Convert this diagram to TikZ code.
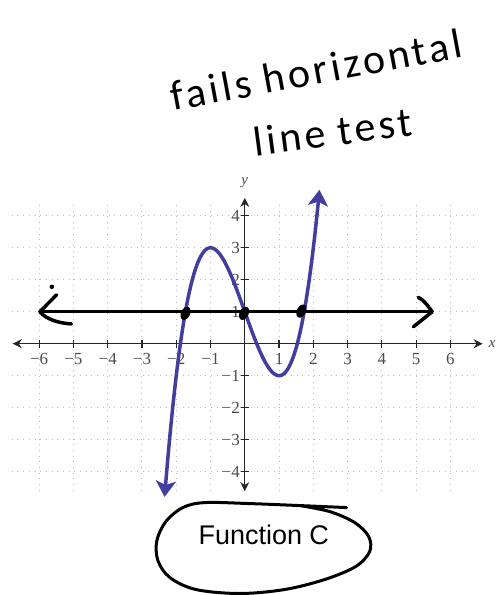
\documentclass[tikz,border=0pt]{standalone}
\usepackage{fontspec}
\setmainfont{Liberation Serif}
\newfontfamily\labelfont{Liberation Sans}
\newfontfamily\handfont{Carlito}[LetterSpace=8]
\usetikzlibrary{arrows.meta, shapes.geometric}
\definecolor{curveBlue}{RGB}{66,62,158}
\definecolor{gridGray}{RGB}{185,185,185}
\tikzset{
    >=Stealth,
    % Grid & axes
    gridline/.style={gridGray, line width=1pt, dash pattern=on 1pt off 4.7pt},
    axis/.style={{Stealth[length=9pt,width=9pt]}-{Stealth[length=9pt,width=9pt]}, line width=1.2pt, black!85},
    tickmark/.style={line width=1.2pt, black!85},
    ticklbl/.style={font=\fontsize{17}{19}\selectfont, text=black!70, inner sep=0pt},
    axislbl/.style={font=\itshape\fontsize{15}{17}\selectfont, text=black!70, inner sep=0pt},
    % Curve & pen marks
    curve/.style={curveBlue, line width=3.5pt,
                  {Stealth[length=16pt,width=20pt,inset=4pt]}-{Stealth[length=16pt,width=20pt,inset=4pt]}},
    pen/.style={black, line width=3.5pt, line cap=round, line join=round},
    handdot/.style={ellipse, fill=black, minimum width=9pt, minimum height=14pt, inner sep=0pt},
    hand/.style={font=\handfont\fontsize{42}{48}\selectfont, inner sep=0pt},
    px/.style={x=1pt, y=-1pt, shift={(-245pt,344pt)}}
}
\begin{document}
\begin{tikzpicture}[x=34.3pt, y=32pt]

\begin{scope}[px]
\useasboundingbox (0,0) rectangle (494,595);
\end{scope}

% grid
\foreach \i in {-6,...,6}
    \draw[gridline] (\i,-4.6) -- (\i,4.4);
\foreach \j in {-4,...,4}
    \draw[gridline] (-6.8,\j) -- (6.75,\j);

% axes
\coordinate (xL) at (-6.77,0);
\coordinate (xR) at (6.94,0);
\coordinate (yB) at (0,-4.61);
\coordinate (yT) at (0,4.56);
\draw[axis] (xL) -- (xR);
\draw[axis] (yB) -- (yT);
\node[axislbl] (xLbl) at (7.22,0) {x};
\node[axislbl] (yLbl) at (0,5.03) {y};

\foreach \i/\lbl in {-6/−6,-5/−5,-4/−4,-3/−3,-2/−2,-1/−1,1/1,2/2,3/3,4/4,5/5,6/6} {
    \draw[tickmark] (\i,-0.12) -- (\i,0.12);
    \node[ticklbl] (xl\i) at (\i,-0.48) {\lbl};
}
\foreach \j/\lbl in {-4/−4,-3/−3,-2/−2,-1/−1,1/1,2/2,3/3,4/4} {
    \draw[tickmark] (-0.12,\j) -- (0.12,\j);
    \node[ticklbl, anchor=east] (yl\j) at (-0.14,\j) {\lbl};
}

% function C
\draw[curve, domain=-2.34:2.18, samples=120, smooth]
    plot (\x, {\x*\x*\x - 3*\x + 1});

% horizontal line test
\coordinate (lineL) at (-5.98,1);
\coordinate (lineR) at (5.47,1);
\draw[pen] (lineL) -- (lineR);
\draw[pen] (lineL) ++(0.49,0.53) -- (lineL)
    .. controls +(0.2,-0.25) and +(-0.35,0.02) .. ++(0.92,-0.38);
\draw[pen] (lineR) ++(-0.41,0.45) .. controls +(0.2,-0.1) and +(-0.08,0.1) .. (lineR)
    -- ++(-0.55,-0.47);
\node[circle, fill=black, minimum size=4.5pt, inner sep=0pt] (iDot) at (-5.63,1.78) {};

\node[handdot, rotate=-25] (dotL) at (-1.73,0.95) {};
\node[handdot, rotate=-25] (dotM) at (-0.02,0.95) {};
\node[handdot, rotate=-25] (dotR) at (1.65,1.02) {};

% notes
\begin{scope}[px]
\node[hand, rotate=10.5, anchor=base] (failsTxt) at (319,84) {fails horizontal};
\node[hand, rotate=7.5, anchor=base] (lineTxt) at (335,146) {line test};
\node[font=\labelfont\fontsize{27}{30}\selectfont, anchor=base] (fnC) at (264,545) {Function C};
\draw[pen, line width=3pt] plot[smooth, tension=0.55] coordinates {
    (347,508) (300,506) (250,504) (205,503) (183,508) (166,522) (157,541) (158,561)
    (170,578) (196,590) (240,594) (285,590) (325,580) (356,567) (370,552) (369,537)
    (355,523) (330,512) (300,506)};
\end{scope}

\end{tikzpicture}
\end{document}
